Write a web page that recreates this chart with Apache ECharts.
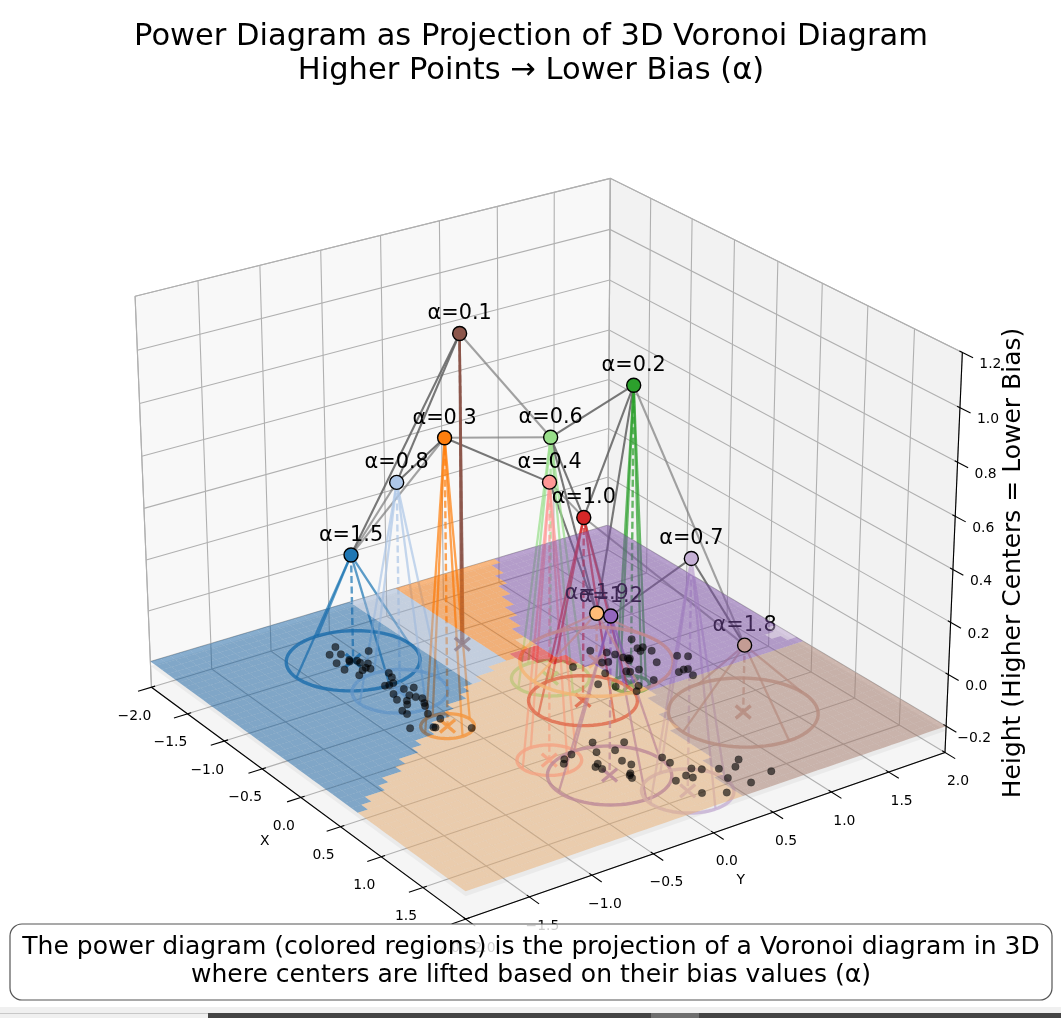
<!DOCTYPE html>
<html><head><meta charset="utf-8"><style>html,body{margin:0;padding:0;background:#fff;overflow:hidden}#c{width:1061px;height:1018px}</style>
<script src="https://cdn.jsdelivr.net/npm/echarts@6/dist/echarts.min.js"></script></head><body><div id="c"></div>
<script>
// ---------- view ----------
const elev=25.03, azim=-34.92, dist=8.714, S=4434.8, cx=542.5, cy=525.8;
const xLim=[-2,2], yLim=[-2,2], zLim=[-0.303,1.2];
const xTicks=[-2,-1.5,-1,-0.5,0,0.5,1,1.5,2], yTicks=[-2,-1.5,-1,-0.5,0,0.5,1,1.5,2], zTicks=[-0.2,0,0.2,0.4,0.6,0.8,1,1.2];
const planeZ=-0.2;
// ---------- data ----------
const alphaLabels=['α=1.5','α=0.8','α=0.3','α=0.1','α=0.2','α=0.6','α=0.4','α=1.0','α=1.2','α=1.9','α=0.7','α=1.8'];
const centerColors=['#1f77b4','#aec7e8','#ff7f0e','#8c564b','#2ca02c','#98df8a','#ff9896','#d62728','#9467bd','#ffbb78','#c5b0d5','#c49c94'];
const centerX=[-1.19,-0.60,0.03,-0.96,0.24,-0.16,0.84,0.25,1.25,-0.19,1.73,1.03];
const centerY=[-0.81,-0.80,-0.82,-0.03,0.59,0.18,-0.53,0.17,-0.32,0.60,-0.02,0.98];
const centerTop=[0.215,0.605,0.89,1.005,0.945,0.73,0.84,0.505,0.40,-0.01,0.665,0.06];
const circleR=[0.475,0.335,0.185,0.01,0.13,0.275,0.22,0.38,0.42,0.545,0.31,0.52];
const edgesLight=[[3,5],[2,0],[2,5],[4,11],[7,11],[7,8],[0,1],[6,7]];
const edgesDark=[[3,0],[3,1],[2,1],[2,6],[4,5],[4,7],[4,9],[5,7],[5,9],[6,9],[10,11],[10,8],[8,9]];
const dotsXY=[[-1.44,-0.80],[-1.36,-0.90],[-1.32,-0.83],[-1.22,-0.93],[-1.21,-0.83],[-1.19,-0.84],[-1.17,-0.79],
[-1.13,-0.79],[-1.25,-0.64],[-1.09,-0.75],[-1.04,-0.80],[-1.01,-0.78],[-1.02,-0.84],[-0.97,-0.90],
[-1.10,-0.94],[-0.88,-0.71],[-0.81,-0.73],[-0.73,-0.84],[-0.72,-0.81],[-0.73,-0.77],[-0.61,-0.76],
[-0.59,-0.69],[-0.59,-0.86],[-0.50,-0.89],[-0.51,-0.78],[-0.46,-0.76],[-0.42,-0.73],[-0.45,-0.84],
[-0.40,-0.87],[-0.35,-0.76],[-0.31,-0.78],[-0.34,-0.95],[-0.28,-0.95],[-0.20,-0.83],[-0.09,-0.80],
[-0.09,-1.05],[-0.01,-0.91],[0.00,-0.90],[0.15,-0.70],[-0.33,1.01],[-0.35,0.66],[-0.26,0.74],
[-0.20,0.77],[-0.10,1.02],[-0.19,0.96],[-0.18,1.00],[-0.14,0.95],[-0.13,0.79],[-0.10,0.81],
[-0.09,0.82],[-0.07,0.80],[-0.15,0.62],[-0.13,0.66],[0.07,0.94],[0.09,0.77],[0.06,0.68],
[0.08,0.70],[0.00,0.54],[-0.21,0.41],[0.11,0.40],[0.21,0.48],[0.29,0.62],[0.35,0.56],
[0.28,0.76],[0.07,1.12],[0.12,1.18],[0.28,0.98],[0.27,1.03],[0.28,1.06],[0.38,1.03],
[0.80,-0.14],[0.92,0.04],[0.93,-0.20],[0.98,-0.08],[0.89,-0.44],[0.86,-0.36],[0.94,-0.48],
[1.07,-0.29],[1.10,-0.33],[1.15,-0.31],[1.13,-0.13],[1.21,-0.11],[1.31,-0.19],[1.33,-0.21],
[1.37,-0.22],[1.25,0.12],[1.34,0.12],[1.49,0.19],[1.54,0.24],[1.55,0.10],[1.60,0.12],
[1.57,0.00],[1.81,0.04],[1.90,0.18],[1.60,0.34],[1.64,0.45],[1.57,0.53],[1.74,0.31],
[1.88,0.40],[1.83,0.61]];
// power-diagram cells (x,y); anything else is the light-orange cell
const regionBlue=[[-2.1,-2.1],[-2.1,-0.30],[-0.40,-0.32],[0.78,-2.1]];
const regionLightBlue=[[-2.1,-0.30],[-2.1,0.11],[-1.15,0.10],[-0.58,0.07],[-0.41,-0.29]];
const regionOrange=[[-2.1,0.11],[-2.1,1.02],[-0.77,0.36],[-0.61,0.25],[-0.59,0.11],[-0.58,0.07]];
const regionRed=[[-0.59,0.11],[-0.61,0.25],[-0.61,0.36],[-0.22,0.50],[-0.33,0.38]];
const regionLightPurple=[[0.00,2.1],[0.37,2.1],[0.20,1.83]];
const regionPurple=[[-2.1,2.1],[-2.1,1.02],[-0.77,0.36],[-0.61,0.36],[-0.22,0.50],[0.38,0.63],[0.37,2.1]];
const regionBrown=[[2.1,2.1],[0.37,2.1],[0.38,0.63],[0.61,0.56],[1.09,0.39],[1.35,0.38],[2.1,0.17]];
const regionColor={blue:[21,97,163],lightblue:[155,177,209],orange:[247,117,7],red:[217,10,10],lightpurple:[187,161,207],purple:[123,77,167],brown:[167,123,107],lightorange:[233,173,111]};
const cellCount=50;
// ---------- projection ----------
const er=elev*Math.PI/180, ar=azim*Math.PI/180;
const U=[-Math.sin(ar),Math.cos(ar),0];
const W=[Math.cos(er)*Math.cos(ar),Math.cos(er)*Math.sin(ar),Math.sin(er)];
const V=[-Math.sin(er)*Math.cos(ar),-Math.sin(er)*Math.sin(ar),Math.cos(er)];
const bx=1.1429,bz=0.8571;
const dot3=(a,b)=>a[0]*b[0]+a[1]*b[1]+a[2]*b[2];
function project(x,y,z){
 const p=[(x-xLim[0])/(xLim[1]-xLim[0])*bx-bx/2,(y-yLim[0])/(yLim[1]-yLim[0])*bx-bx/2,(z-zLim[0])/(zLim[1]-zLim[0])*bz-bz/2];
 const q=dist-dot3(p,W);
 return [dot3(p,U)/q,dot3(p,V)/q];
}
const rgba=(h,a)=>{const n=parseInt(h.slice(1),16);return `rgba(${n>>16},${(n>>8)&255},${n&255},${a})`;};
const F=zLim[0],T=zLim[1];
const FONT='"DejaVu Sans"';
const fmtTick=v=>(v<0?'\u2212':'')+Math.abs(v).toFixed(1);
function Layer(){const a=[];a.line=(pts,color,width,dash)=>a.push({k:'l',pts,color,width,dash});a.poly=(pts,fill)=>a.push({k:'p',pts,fill});a.text=(pt,text,dx,dy,size,color,al)=>a.push({k:'t',pt,text,dx,dy,size,color,al});a.cross=(pt,color,size,width)=>a.push({k:'x',pt,color,size,width});return a;}
// ---------- frame ----------
const frame=Layer();
frame.poly([[-2,-2,F],[-2,2,F],[-2,2,T],[-2,-2,T]],'rgba(242,242,242,0.5)');
frame.poly([[-2,2,F],[2,2,F],[2,2,T],[-2,2,T]],'rgba(230,230,230,0.5)');
frame.poly([[-2,-2,F],[2,-2,F],[2,2,F],[-2,2,F]],'rgba(236,236,236,0.5)');
const gc='#b0b0b0',gw=1.1;
xTicks.forEach(v=>frame.line([[v,-2,F],[v,2,F],[v,2,T]],gc,gw));
yTicks.forEach(v=>frame.line([[2,v,F],[-2,v,F],[-2,v,T]],gc,gw));
zTicks.forEach(v=>frame.line([[-2,-2,v],[-2,2,v],[2,2,v]],gc,gw));
frame.line([[-2,-2,F],[-2,-2,T],[-2,2,T],[2,2,T]],gc,gw);
frame.line([[-2,2,F],[-2,2,T]],gc,gw);
frame.line([[-2,-2,F],[2,-2,F]],'#000',1.1);
frame.line([[2,-2,F],[2,2,F]],'#000',1.1);
frame.line([[2,2,F],[2,2,T]],'#000',1.1);
xTicks.forEach(v=>{frame.line([[v,-1.97,F],[v,-2.11,F]],'#000',1.1);frame.text([v,-2,F],fmtTick(v),-17,29,13.9,'#000','center');});
yTicks.forEach(v=>{frame.line([[1.97,v,F],[2.11,v,F]],'#000',1.1);frame.text([2,v,F],fmtTick(v),13,29,13.9,'#000','center');});
zTicks.forEach(v=>{frame.line([[1.97,2,v],[2.11,2,v]],'#000',1.1);frame.text([2,2,v],fmtTick(v),28,12,13.9,'#000','center');});
frame.text([0,-2,F],'X',-36,44,13.9,'#000','center');
frame.text([2,0,F],'Y',27,48,13.9,'#000','center');
// ---------- lifted centers, cones, circles ----------
const under=Layer();
under.poly([[-2,-2,-0.218],[2,-2,-0.218],[2,2,-0.218],[-2,2,-0.218]],'rgba(0,0,0,0.045)');
const topOf=i=>[centerX[i],centerY[i],centerTop[i]];
edgesLight.forEach(e=>under.line([topOf(e[0]),topOf(e[1])],'rgba(128,128,128,0.72)',2.1));
edgesDark.forEach(e=>under.line([topOf(e[0]),topOf(e[1])],'rgba(100,100,100,0.88)',2.1));
centerX.forEach((x,i)=>{
 const y=centerY[i],z=centerTop[i],r=circleR[i],c=centerColors[i];
 [[1,0],[0,1],[-1,0],[0,-1]].forEach(d=>under.line([[x,y,z],[x+r*d[0],y+r*d[1],planeZ]],rgba(c,0.72),2.3));
 under.line([[x,y,z],[x,y,planeZ]],rgba(c,0.72),2.4,[7,3.5]);
 const ring=[];for(let k=0;k<=72;k++){const t=k/72*2*Math.PI;ring.push([x+r*Math.cos(t),y+r*Math.sin(t),planeZ]);}
 if(r>0.05)under.line(ring,rgba(c,0.8),3.4);
 under.cross([x,y,planeZ],rgba(c,0.85),7.5,3.4);
 under.text([x,y,z],alphaLabels[i],0,-19.5,20.8,'#000','center');
});
// ---------- power diagram surface ----------
function inPoly(px,py,poly){let c=false;for(let i=0,j=poly.length-1;i<poly.length;j=i++){const a=poly[i],b=poly[j];if((a[1]>py)!==(b[1]>py)&&px<(b[0]-a[0])*(py-a[1])/(b[1]-a[1])+a[0])c=!c;}return c;}
const regionsInOrder=[['lightpurple',regionLightPurple],['blue',regionBlue],['lightblue',regionLightBlue],['orange',regionOrange],['red',regionRed],['brown',regionBrown],['purple',regionPurple]];
const surface=Layer();
const cellSize=4/cellCount;
for(let i=0;i<cellCount;i++)for(let j=0;j<cellCount;j++){
 const x0=-2+i*cellSize,y0=-2+j*cellSize,x1=x0+cellSize,y1=y0+cellSize,mx=(x0+x1)/2,my=(y0+y1)/2;
 let name='lightorange';for(const r of regionsInOrder){if(inPoly(mx,my,r[1])){name=r[0];break;}}
 const c=regionColor[name];
 surface.poly([[x0,y0,planeZ],[x1,y0,planeZ],[x1,y1,planeZ],[x0,y1,planeZ]],`rgba(${c[0]},${c[1]},${c[2]},0.5)`);
}
// ---------- rendering ----------
function renderer(layer){return function(params,api){
 const p=layer[api.value(0)];
 if(p.k==='p')return{type:'polygon',shape:{points:p.pts.map(q=>api.coord(project(q[0],q[1],q[2])))},style:{fill:p.fill,stroke:null}};
 if(p.k==='l')return{type:'polyline',shape:{points:p.pts.map(q=>api.coord(project(q[0],q[1],q[2])))},style:{stroke:p.color,lineWidth:p.width,fill:null,lineDash:p.dash||null}};
 const c=api.coord(project(p.pt[0],p.pt[1],p.pt[2]));
 if(p.k==='t')return{type:'text',style:{x:c[0]+p.dx,y:c[1]+p.dy,text:p.text,fill:p.color,font:`${p.size}px ${FONT}`,textAlign:p.al,textVerticalAlign:'middle'}};
 const s=p.size;
 return{type:'path',shape:{pathData:`M${c[0]-s} ${c[1]-s*0.85}L${c[0]+s} ${c[1]+s*0.85}M${c[0]-s} ${c[1]+s*0.85}L${c[0]+s} ${c[1]-s*0.85}`},style:{stroke:p.color,lineWidth:p.width,fill:null}};
};}
const customSeries=(layer,z)=>({type:'custom',coordinateSystem:'cartesian2d',clip:false,silent:true,z,renderItem:renderer(layer),data:layer.map((_,i)=>[i]),encode:{x:0,y:0}});
const chart=echarts.init(document.getElementById('c'),null,{renderer:'canvas'});
chart.setOption({animation:false,backgroundColor:'#fff',
 title:{text:'Power Diagram as Projection of 3D Voronoi Diagram\nHigher Points \u2192 Lower Bias (\u03b1)',left:526,top:15,textAlign:'center',
  textStyle:{fontFamily:FONT,fontSize:30.5,fontWeight:'normal',color:'#000',lineHeight:34}},
 grid:{left:0,right:0,top:0,bottom:0},
 xAxis:{type:'value',min:-cx/S,max:(1061-cx)/S,show:false},
 yAxis:{type:'value',min:(cy-1018)/S,max:cy/S,show:false},
 tooltip:{show:false},
 series:[customSeries(frame,1),customSeries(under,2),customSeries(surface,3),
  {type:'scatter',z:4,silent:true,symbolSize:7.5,itemStyle:{color:'rgba(0,0,0,0.6)',borderColor:'rgba(0,0,0,0.3)',borderWidth:0.6,opacity:1},data:dotsXY.map(d=>project(d[0],d[1],planeZ))},
  {type:'scatter',z:5,silent:true,symbolSize:14,itemStyle:{opacity:1},data:centerX.map((x,i)=>({value:project(x,centerY[i],centerTop[i]),itemStyle:{color:centerColors[i],borderColor:'#000',borderWidth:1.4,opacity:1}}))}
 ],
 graphic:{elements:[
  {type:'text',z:50,x:1013,y:563,rotation:Math.PI/2,style:{x:0,y:0,text:'Height (Higher Centers = Lower Bias)',font:`25px ${FONT}`,fill:'#000',textAlign:'center',textVerticalAlign:'middle'}},
  {type:'rect',z:60,shape:{x:10,y:924,width:1042,height:76,r:12},style:{fill:'rgba(255,255,255,0.8)',stroke:'#555',lineWidth:1.2}},
  {type:'text',z:61,x:531,y:947,style:{x:0,y:0,text:'The power diagram (colored regions) is the projection of a Voronoi diagram in 3D',font:`25.05px ${FONT}`,fill:'#000',textAlign:'center',textVerticalAlign:'middle'}},
  {type:'text',z:61,x:531,y:975,style:{x:0,y:0,text:'where centers are lifted based on their bias values (\u03b1)',font:`25.05px ${FONT}`,fill:'#000',textAlign:'center',textVerticalAlign:'middle'}},
  {type:'rect',z:70,shape:{x:0,y:1007,width:1061,height:11},style:{fill:'#f0f0f0'}},
  {type:'rect',z:71,shape:{x:0,y:1013,width:208,height:1},style:{fill:'#c8c8c8'}},
  {type:'rect',z:71,shape:{x:208,y:1013,width:853,height:5},style:{fill:'#444'}},
  {type:'rect',z:72,shape:{x:651,y:1013,width:48,height:5},style:{fill:'#6e6e6e'}}
 ]}
});
</script></body></html>
